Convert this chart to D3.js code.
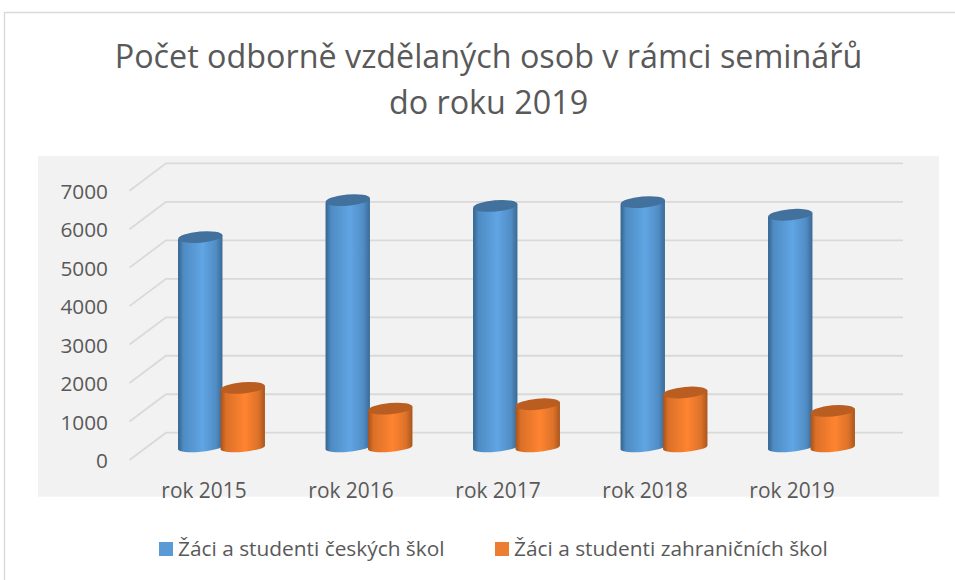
<!DOCTYPE html>
<html><head><meta charset="utf-8">
<script src="https://cdn.jsdelivr.net/npm/d3@7"></script>
<style>html,body{margin:0;padding:0;background:#fff}svg{display:block}text{font-family:"Open Sans",sans-serif}</style>
</head><body><div id="c"></div>
<script>
const categories=["rok 2015","rok 2016","rok 2017","rok 2018","rok 2019"];
const seriesNames=["Žáci a studenti českých škol","Žáci a studenti zahraničních škol"];
const czech=[5470,6430,6280,6380,6050];
const foreign=[1550,1010,1125,1430,950];
const yTicks=[0,1000,2000,3000,4000,5000,6000,7000];
const titleLines=["Počet odborně vzdělaných osob v rámci seminářů","do roku 2019"];

const W=955,H=580;
const svg=d3.select("#c").append("svg").attr("width",W).attr("height",H);
const defs=svg.append("defs");
function grad(id,edge,mid,edge2){
  const g=defs.append("linearGradient").attr("id",id);
  [[0,edge],[0.12,d3.interpolateRgb(edge,mid)(0.6)],[0.55,mid],[0.85,d3.interpolateRgb(edge2,mid)(0.6)],[1,edge2]]
    .forEach(s=>g.append("stop").attr("offset",s[0]).attr("stop-color",s[1]));
}
grad("gb","#34638f","#60a5e4","#3a6a96");
grad("go","#a5521c","#ff8430","#a9561e");

svg.append("line").attr("x1",4.5).attr("x2",4.5).attr("y1",12).attr("y2",H).attr("stroke","#d9d9d9").attr("stroke-width",1.4);
svg.append("line").attr("x1",4).attr("x2",955).attr("y1",12.5).attr("y2",12.5).attr("stroke","#d9d9d9").attr("stroke-width",1.4);
svg.append("rect").attr("x",38).attr("y",156).attr("width",901).attr("height",340.7).attr("fill","#f2f2f2");

svg.selectAll("text.t").data(titleLines).join("text").attr("class","t")
  .attr("x",488.5).attr("y",(d,i)=>68+i*46).attr("text-anchor","middle")
  .attr("font-size",32.3).attr("fill","#595959").text(d=>d);

const yBack=d3.scaleLinear().domain([0,7000]).range([432.7,163.4]);
const yBar=d3.scaleLinear().domain([0,7000]).range([447.5,178.2]);
const x=d3.scaleBand().domain(categories).range([130.5,868]);
const xLabel=d3.scaleBand().domain(categories).range([130.5,865.5]);
const depthX=[129.5,166],depthDy=27.3;

const grid=svg.append("g").attr("stroke","#d9d9d9").attr("stroke-width",1.8).attr("fill","none");
yTicks.forEach(t=>{
  const y=yBack(t);
  grid.append("polyline").attr("points",`${depthX[0]},${y+depthDy} ${depthX[1]},${y} 903,${y}`);
});
svg.selectAll("text.y").data(yTicks).join("text").attr("class","y")
  .attr("x",108).attr("y",t=>yBack(t)+depthDy+8).attr("text-anchor","end")
  .attr("font-size",20.8).attr("fill","#595959").text(d=>d);
svg.selectAll("text.x").data(categories).join("text").attr("class","x")
  .attr("x",d=>xLabel(d)+xLabel.bandwidth()/2).attr("y",498).attr("text-anchor","middle")
  .attr("font-size",20.9).attr("fill","#595959").text(d=>d);

const rx=22.2,ry=5.6,ryB=4.2,tilt=-5,dy=2.1;
function cyl(cx,v,g,topCol){
  const yt=yBar(v),yb=yBar(0);
  const G=svg.append("g");
  G.append("path").attr("fill",`url(#${g})`)
   .attr("d",`M${cx-rx},${yt+dy} L${cx-rx},${yb+dy} A${rx},${ryB} ${tilt} 0 0 ${cx+rx},${yb-dy} L${cx+rx},${yt-dy} Z`);
  G.append("ellipse").attr("cx",cx).attr("cy",yt).attr("rx",rx).attr("ry",ry)
   .attr("transform",`rotate(${tilt} ${cx} ${yt})`).attr("fill",topCol);
}
categories.forEach((c,i)=>{
  const b=x(c)+x.bandwidth()/2;
  cyl(b-4,czech[i],"gb","#41719c");
  cyl(b+38.5,foreign[i],"go","#ba5d20");
});

const leg=[[159,178,"#5b9bd5"],[495,514,"#ed7d31"]];
leg.forEach((l,i)=>{
  svg.append("rect").attr("x",l[0]).attr("y",542).attr("width",14).attr("height",14).attr("fill",l[2]);
  svg.append("text").attr("x",l[1]).attr("y",556).attr("font-size",20.85).attr("fill","#595959").text(seriesNames[i]);
});
</script></body></html>
